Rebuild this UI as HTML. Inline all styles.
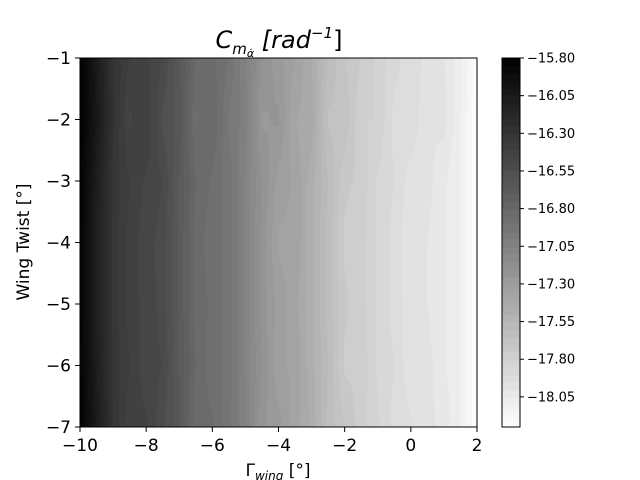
<!DOCTYPE html>
<html><head><meta charset="utf-8"><style>
body{margin:0;background:#fff;width:640px;height:480px;overflow:hidden;font-family:"DejaVu Sans","Liberation Sans",sans-serif;}
#wrap{position:relative;width:640px;height:480px;}
canvas{position:absolute;}
svg{position:absolute;left:0;top:0;}
</style></head><body>
<div id="wrap">
<canvas id="plot" width="397" height="369" style="left:80px;top:58px"></canvas>
<canvas id="cbar" width="18" height="369" style="left:502px;top:58px"></canvas>
<svg id="ax" width="640" height="480"></svg>
</div>
<script>
const xVals=[-10,-9.5,-9,-8.5,-8,-7.5,-7,-6.5,-6,-5.5,-5,-4.5,-4,-3.5,-3,-2.5,-2,-1.5,-1,-0.5,0,0.5,1,1.5,2];
const yVals=[-1,-2,-3,-4,-5,-6,-7];
const zRow1=[-15.80,-16.05,-16.30,-16.40,-16.44,-16.50,-16.65,-16.80,-16.84,-16.90,-17.05,-17.20,-17.28,-17.35,-17.45,-17.60,-17.70,-17.75,-17.82,-17.88,-17.93,-17.96,-18.00,-18.08,-18.24];
const zRow2=[-15.80,-16.03,-16.28,-16.46,-16.40,-16.56,-16.62,-16.86,-16.80,-16.96,-17.02,-17.26,-17.24,-17.40,-17.42,-17.66,-17.66,-17.80,-17.80,-17.92,-17.90,-18.00,-17.98,-18.10,-18.24];
const zRow3=[-15.82,-16.08,-16.32,-16.40,-16.46,-16.50,-16.66,-16.80,-16.86,-16.92,-17.06,-17.20,-17.32,-17.36,-17.48,-17.60,-17.74,-17.76,-17.86,-17.90,-17.98,-17.98,-18.04,-18.10,-18.24];
const zRow4=[-15.83,-16.10,-16.32,-16.42,-16.48,-16.52,-16.66,-16.82,-16.88,-16.92,-17.06,-17.22,-17.36,-17.36,-17.48,-17.62,-17.76,-17.78,-17.86,-17.92,-17.99,-18.00,-18.04,-18.10,-18.24];
const zRow5=[-15.83,-16.10,-16.32,-16.42,-16.47,-16.52,-16.66,-16.82,-16.86,-16.92,-17.06,-17.22,-17.32,-17.38,-17.48,-17.62,-17.74,-17.78,-17.86,-17.92,-17.98,-18.00,-18.04,-18.10,-18.24];
const zRow6=[-15.83,-16.08,-16.32,-16.40,-16.48,-16.50,-16.66,-16.80,-16.88,-16.92,-17.06,-17.20,-17.34,-17.36,-17.48,-17.60,-17.76,-17.76,-17.86,-17.90,-17.99,-17.98,-18.04,-18.10,-18.24];
const zRow7=[-15.82,-16.06,-16.30,-16.44,-16.44,-16.54,-16.64,-16.84,-16.84,-16.94,-17.04,-17.24,-17.28,-17.38,-17.46,-17.62,-17.70,-17.78,-17.84,-17.92,-17.94,-17.98,-18.02,-18.10,-18.24];
const zRows=[zRow1,zRow2,zRow3,zRow4,zRow5,zRow6,zRow7];
const levelMin=-18.25, levelMax=-15.80, levelStep=0.05;
const xTicks=[-10,-8,-6,-4,-2,0,2];
const yTicks=[-1,-2,-3,-4,-5,-6,-7];
const cbTicks=[-15.80,-16.05,-16.30,-16.55,-16.80,-17.05,-17.30,-17.55,-17.80,-18.05];

const PX=80,PY=58,PW=397,PH=369;
const xMin=-10,xMax=2;
const sx=v=>PX+(v-xMin)/(xMax-xMin)*PW;
const sy=v=>PY+(yVals[0]-v)/(yVals[0]-yVals[yVals.length-1])*PH;
const nLev=Math.round((levelMax-levelMin)/levelStep);
function colorFor(z){
  let k=Math.floor((z-levelMin)/levelStep); k=Math.max(0,Math.min(nLev-1,k));
  const f=(k+0.5)/nLev; const g=Math.round(255*(1-f)); return [g,g,g];
}
function interp(xv,yv){
  let i=0;while(i<xVals.length-2&&xv>xVals[i+1])i++;
  let j=0;while(j<yVals.length-2&&yv<yVals[j+1])j++;
  const tx=(xv-xVals[i])/(xVals[i+1]-xVals[i]);
  const ty=(yv-yVals[j])/(yVals[j+1]-yVals[j]);
  const a=zRows[j][i],b=zRows[j][i+1],c=zRows[j+1][i],d=zRows[j+1][i+1];
  return a*(1-tx)*(1-ty)+b*tx*(1-ty)+c*(1-tx)*ty+d*tx*ty;
}
const pc=document.getElementById('plot').getContext('2d');
const img=pc.createImageData(PW,PH);
for(let py=0;py<PH;py++){for(let px=0;px<PW;px++){
  const xv=xMin+(px+0.5)/PW*(xMax-xMin);
  const yv=yVals[0]-(py+0.5)/PH*(yVals[0]-yVals[yVals.length-1]);
  const c=colorFor(interp(xv,yv));const o=(py*PW+px)*4;
  img.data[o]=c[0];img.data[o+1]=c[1];img.data[o+2]=c[2];img.data[o+3]=255;}}
pc.putImageData(img,0,0);
const cc=document.getElementById('cbar').getContext('2d');
const cy=v=>(levelMax-v)/(levelMax-levelMin)*PH;
for(let k=0;k<nLev;k++){
  const lo=levelMin+k*levelStep,hi=lo+levelStep;const c=colorFor(lo+levelStep/2);
  cc.fillStyle=`rgb(${c[0]},${c[1]},${c[2]})`;
  const y0=Math.floor(cy(hi)),y1=Math.ceil(cy(lo));cc.fillRect(0,y0,18,y1-y0);
}
const svg=document.getElementById('ax');const NS='http://www.w3.org/2000/svg';
function el(tag,attrs,txt){const e=document.createElementNS(NS,tag);for(const k in attrs)e.setAttribute(k,attrs[k]);if(txt!==undefined)e.textContent=txt;svg.appendChild(e);return e;}
const frame=el('rect',{x:PX,y:PY,width:PW,height:PH,fill:'none',stroke:'#000','stroke-width':1});


const cbf=el('rect',{x:502,y:PY,width:18,height:PH,fill:'none',stroke:'#000','stroke-width':1});


const fmt=v=>(v<0?'\u2212':'')+Math.abs(v);
xTicks.forEach(t=>{const x=sx(t);
  const l=el('line',{x1:x,y1:PY+PH,x2:x,y2:PY+PH+5,stroke:'#000'});
  
  
  const tx=el('text',{x:x,y:451,'font-size':17,'text-anchor':'middle'},fmt(t));
  
  });
yTicks.forEach(t=>{const y=sy(t);
  const l=el('line',{x1:PX-5,y1:y,x2:PX,y2:y,stroke:'#000'});
  
  
  const tx=el('text',{x:PX-9,y:y+6,'font-size':17,'text-anchor':'end'},fmt(t));
  
  });
cbTicks.forEach(t=>{const y=PY+cy(t);
  const l=el('line',{x1:520,y1:y,x2:524,y2:y,stroke:'#000'});
  
  
  const tx=el('text',{x:527,y:y+4.5,'font-size':13},(t<0?'\u2212':'')+Math.abs(t).toFixed(2));
  
  });
</script>
<svg width="640" height="480" style="position:absolute;left:0;top:0">
<text x="279" y="48" font-size="24" text-anchor="middle" font-style="italic">C<tspan font-size="15" dy="6">m</tspan><tspan font-size="11" dy="3">α̇</tspan><tspan dy="-9"> [rad</tspan><tspan font-size="15" dy="-10">−1</tspan><tspan dy="10" font-style="normal">]</tspan></text>
<text x="29" y="242" font-size="17" text-anchor="middle" transform="rotate(-90 29 242)">Wing Twist [°]</text>
<text x="278" y="476" font-size="17" text-anchor="middle">Γ<tspan font-size="12" dy="4" font-style="italic">wing</tspan><tspan dy="-4"> [°]</tspan></text>
</svg>
</body></html>
